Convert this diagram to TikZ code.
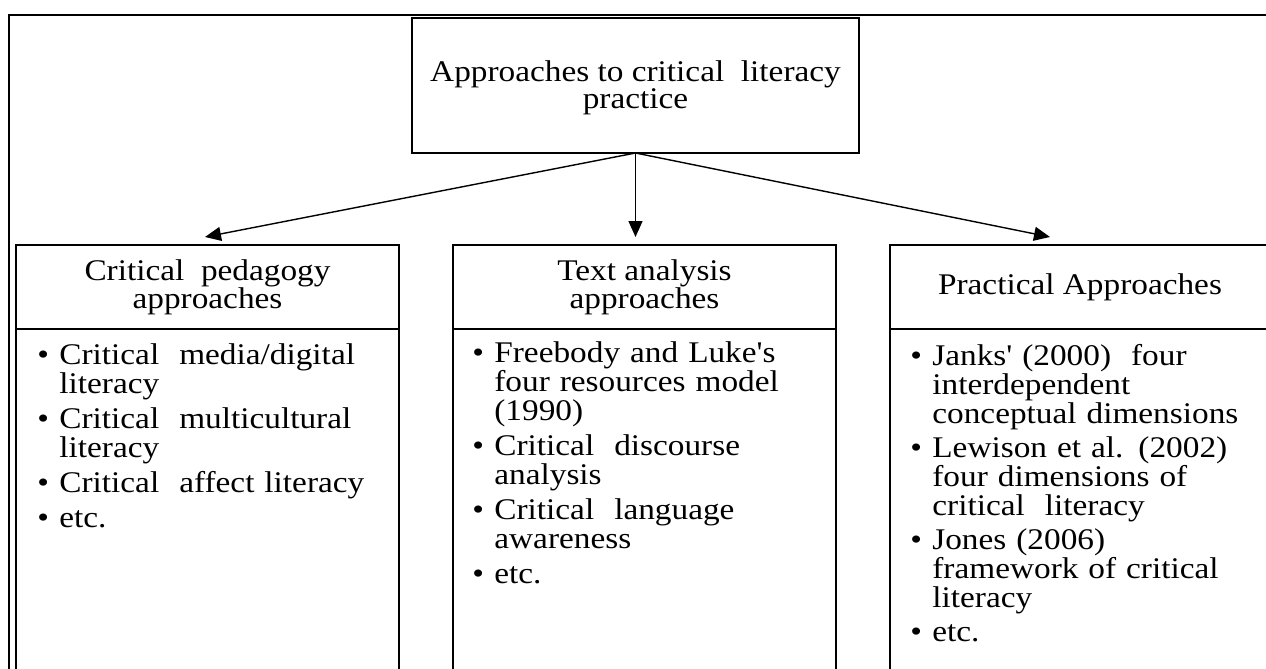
\documentclass[tikz,border=0pt]{standalone}
\usepackage{fontspec}
\setmainfont[FakeStretch=1.11,Ligatures=TeXOff]{Liberation Serif}
\usetikzlibrary{arrows.meta}
\newcommand\bli[1]{\par\hangindent=11pt\hangafter=1\noindent\makebox[11pt][l]{\textbullet}\strut#1}
\newcommand\tightls{\lineskiplimit=-100pt\relax}
\begin{document}
\begin{tikzpicture}[x=0.5pt,y=-0.5pt,
  box/.style={draw, line width=1pt, anchor=north west, inner sep=0pt, outer sep=0pt},
  ttl/.style={align=center, inner sep=0pt, font=\fontsize{15}{14}\selectfont\tightls},
  body/.style={anchor=north west, inner sep=0pt, text width=182pt, font=\fontsize{15}{14.5}\selectfont\tightls},
  conn/.style={line width=0.7pt, -{Triangle[length=8pt,width=7pt]}}]
\useasboundingbox (0,0) rectangle (1266,669);
\clip (0,0) rectangle (1266,669);
% outer frame
\draw[line width=1.3pt] (9,15) rectangle (1290,720);
% top box
\node[box, minimum width=223.5pt, minimum height=67.5pt] (top) at (412,18) {};
\node[ttl, font=\fontsize{15}{13.5}\selectfont\tightls] (toptxt) at ([yshift=-1pt]top.center) {Approaches to critical\ \ literacy\\practice};
% three boxes
\node[box, minimum width=191.5pt, minimum height=230pt] (lb) at (16,245) {};
\node[box, minimum width=191.5pt, minimum height=230pt] (mb) at (453,245) {};
\node[box, minimum width=191pt, minimum height=230pt] (rb) at (890,245) {};
\draw[line width=1pt] (lb.west |- 0,329) -- (lb.east |- 0,329);
\draw[line width=1pt] (mb.west |- 0,329) -- (mb.east |- 0,329);
\draw[line width=1pt] (rb.west |- 0,329) -- (rb.east |- 0,329);
% titles
\node[ttl] (lt) at (lb.north |- 0,287) {Critical\ \ pedagogy\\approaches};
\node[ttl] (mt) at (mb.north |- 0,287) {Text analysis\\approaches};
\node[ttl] (rt) at (1080,287) {Practical Approaches};
% bodies
\node[body] (lbody) at (37,328.7) {\raggedright\setlength\parskip{3pt}%
\bli{Critical\ \ media/digital\newline literacy}
\bli{Critical\ \ multicultural\newline literacy}
\bli{Critical\ \ affect literacy}
\bli{etc.}\par};
\node[body] (mbody) at (472,326.7) {\raggedright\setlength\parskip{3pt}%
\bli{Freebody and Luke's\newline four resources model\newline (1990)}
\bli{Critical\ \ discourse\newline analysis}
\bli{Critical\ \ language\newline awareness}
\bli{etc.}\par};
\node[body] (rbody) at (910,330.7) {\raggedright\setlength\parskip{2.5pt}%
\bli{Janks' (2000)\ \ four\newline interdependent\newline conceptual dimensions}
\bli{Lewison et al. (2002)\newline four dimensions of\newline critical\ \ literacy}
\bli{Jones (2006)\newline framework of critical\newline literacy}
\bli{etc.}\par};
% connectors
\coordinate (tL) at (205,237);
\coordinate (tM) at (top.south |- 0,237);
\coordinate (tR) at (1050,237);
\draw[conn] (top.south) -- (tL);
\draw[conn] (top.south) -- (tM);
\draw[conn] (top.south) -- (tR);
\end{tikzpicture}
\end{document}
